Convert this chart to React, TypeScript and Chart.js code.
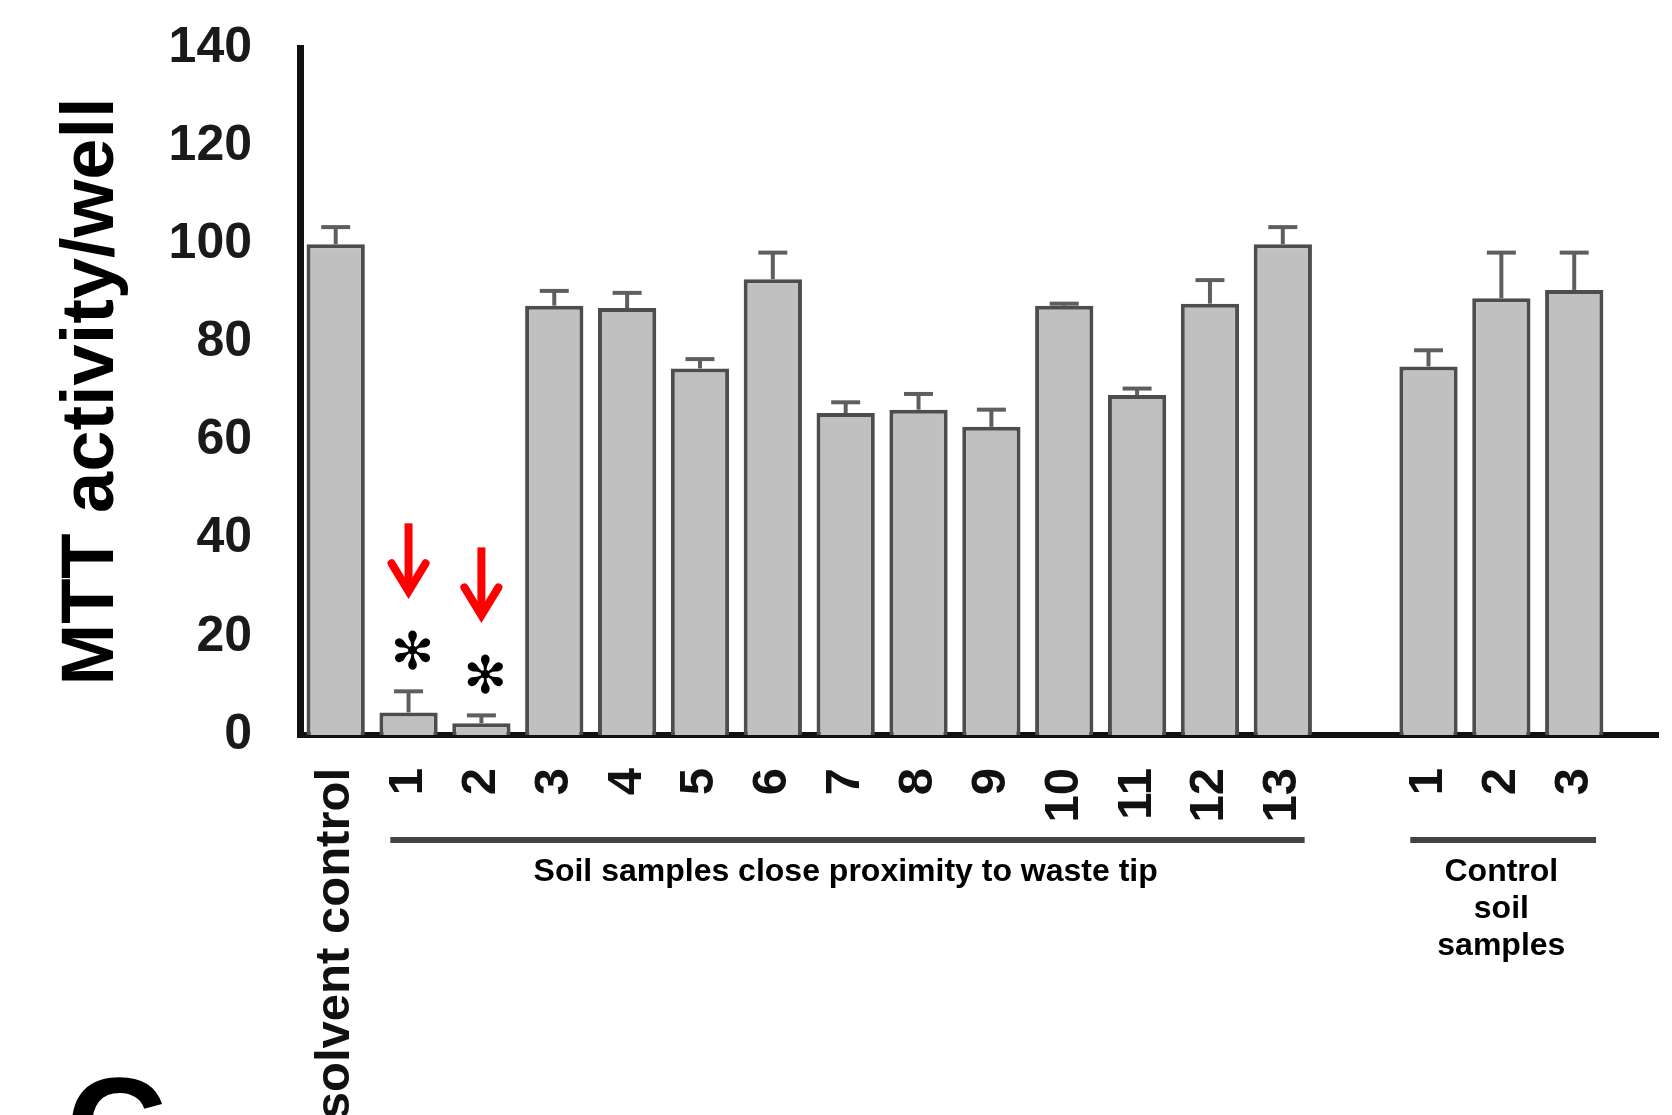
import React, { useEffect, useRef } from 'react';
import { Chart, registerables } from 'chart.js';

Chart.register(...registerables);

// ---- data ----
const categories = ['solvent control', '1', '2', '3', '4', '5', '6', '7', '8', '9', '10', '11', '12', '13', '1', '2', '3'];
const positions = [0, 1, 2, 3, 4, 5, 6, 7, 8, 9, 10, 11, 12, 13, 15, 16, 17];
const values = [100, 4.6, 2.4, 87.5, 87.0, 74.7, 92.9, 65.6, 66.3, 62.8, 87.5, 69.3, 87.9, 100, 75.1, 89.0, 90.7];
const errors = [3.5, 4.3, 1.6, 3.0, 3.1, 1.9, 5.4, 2.2, 3.2, 3.5, 0.4, 1.3, 4.8, 3.5, 3.3, 9.3, 7.6];
const yTickValues = [0, 20, 40, 60, 80, 100, 120, 140];
const yTitle = 'MTT activity/well';
const groupLines = [['Soil samples close proximity to waste tip'], ['Control', 'soil', 'samples']];
const groupFirst = [1, 14];
const groupLast = [13, 16];
const markedBars = [1, 2];
const markSymbol = '✻';
const panelLetter = 'C';

const FONT = '"Liberation Sans", Arial, sans-serif';

const annotationPlugin = {
  id: 'annotations',
  afterDatasetsDraw(chart: any) {
    const ctx = chart.ctx;
    const xs = chart.scales.x;
    const ys = chart.scales.y;
    ctx.save();
    // error bars (upper only)
    ctx.strokeStyle = '#5e5e5e';
    ctx.lineWidth = 4;
    ctx.lineCap = 'butt';
    positions.forEach((p, i) => {
      const x = xs.getPixelForValue(p);
      const yTop = ys.getPixelForValue(values[i]);
      const yErr = ys.getPixelForValue(values[i] + errors[i]);
      ctx.beginPath();
      ctx.moveTo(x, yTop);
      ctx.lineTo(x, yErr);
      ctx.stroke();
      ctx.beginPath();
      ctx.moveTo(x - 14.5, yErr);
      ctx.lineTo(x + 14.5, yErr);
      ctx.stroke();
    });
    ctx.restore();
  },
  afterDraw(chart: any) {
    const ctx = chart.ctx;
    const xs = chart.scales.x;
    const ys = chart.scales.y;
    const area = chart.chartArea;
    ctx.save();
    // significance marks and arrows
    markedBars.forEach((i) => {
      const x = xs.getPixelForValue(positions[i]);
      const yErr = ys.getPixelForValue(values[i] + errors[i]);
      const starY = yErr - 36;
      ctx.fillStyle = '#000';
      ctx.font = `52px "DejaVu Sans"`;
      ctx.textAlign = 'center';
      ctx.textBaseline = 'middle';
      ctx.fillText(markSymbol, x + 4, starY);
      const tip = starY - 58;
      ctx.strokeStyle = '#ff0000';
      ctx.lineWidth = 8;
      ctx.lineCap = 'butt';
      ctx.beginPath();
      ctx.moveTo(x, tip - 74);
      ctx.lineTo(x, tip - 6);
      ctx.stroke();
      ctx.lineCap = 'round';
      ctx.lineJoin = 'miter';
      ctx.beginPath();
      ctx.moveTo(x - 17, tip - 34);
      ctx.lineTo(x, tip - 6);
      ctx.lineTo(x + 17, tip - 34);
      ctx.stroke();
    });
    // group brackets and labels
    const lineY = area.bottom + 105;
    groupLines.forEach((lines, g) => {
      const x1 = xs.getPixelForValue(positions[groupFirst[g]] - 0.25);
      const x2 = xs.getPixelForValue(positions[groupLast[g]] + 0.3);
      ctx.fillStyle = '#444';
      ctx.fillRect(x1, lineY - 3, x2 - x1, 6);
      const cx = (xs.getPixelForValue(positions[groupFirst[g]]) + xs.getPixelForValue(positions[groupLast[g]])) / 2;
      ctx.fillStyle = '#000';
      ctx.font = `bold 32px ${FONT}`;
      ctx.textAlign = 'center';
      ctx.textBaseline = 'alphabetic';
      lines.forEach((t, k) => {
        ctx.fillText(t, cx, lineY + 41 + k * 37);
      });
    });
    // panel letter (cut off at bottom edge)
    ctx.fillStyle = '#000';
    ctx.font = `bold 140px ${FONT}`;
    ctx.textAlign = 'left';
    ctx.textBaseline = 'alphabetic';
    ctx.fillText(panelLetter, 66, chart.height + 60);
    ctx.restore();
  },
};

export default function App() {
  const ref = useRef<HTMLCanvasElement | null>(null);
  useEffect(() => {
    if (!ref.current) return;
    const chart = new Chart(ref.current, {
      type: 'bar',
      data: {
        datasets: [
          {
            data: positions.map((p, i) => ({ x: p, y: values[i] })),
            backgroundColor: '#c0c0c0',
            borderColor: '#4d4d4d',
            borderWidth: 4,
            barPercentage: 0.8,
            categoryPercentage: 1,
          },
        ],
      },
      options: {
        responsive: false,
        animation: false,
        devicePixelRatio: 1,
        layout: { padding: { top: 48, right: 14, left: 0, bottom: 0 } },
        plugins: { legend: { display: false }, tooltip: { enabled: false } },
        scales: {
          x: {
            type: 'linear',
            offset: false,
            min: -0.49,
            max: 18.15,
            grid: { display: false, drawTicks: false, offset: false },
            border: { display: true, color: '#111', width: 6 },
            afterBuildTicks: (scale: any) => {
              scale.ticks = positions.map((v) => ({ value: v }));
            },
            afterFit: (scale: any) => {
              scale.height = 380;
              scale.paddingLeft = 0;
              scale.paddingRight = 0;
              scale.paddingTop = 0;
              scale.paddingBottom = 0;
            },
            ticks: {
              autoSkip: false,
              minRotation: 90,
              maxRotation: 90,
              padding: 33,
              color: '#111',
              font: { family: FONT, size: 49, weight: 'bold' },
              callback: (_v: any, index: number) => categories[index],
            },
          },
          y: {
            type: 'linear',
            min: 0,
            max: 140,
            grid: { display: false, drawTicks: false },
            border: { display: true, color: '#111', width: 7 },
            afterBuildTicks: (scale: any) => {
              scale.ticks = yTickValues.map((v) => ({ value: v }));
            },
            afterFit: (scale: any) => {
              scale.width = 300;
              scale.paddingLeft = 0;
              scale.paddingRight = 0;
              scale.paddingTop = 0;
              scale.paddingBottom = 0;
            },
            ticks: {
              padding: 48,
              color: '#1a1a1a',
              font: { family: FONT, size: 50, weight: 'bold' },
            },
            title: {
              display: true,
              text: yTitle,
              color: '#000',
              font: { family: FONT, size: 74, weight: 'bold', lineHeight: 1 },
              padding: { top: 56, bottom: 0 },
            },
          },
        },
      },
      plugins: [annotationPlugin],
    } as any);
    return () => chart.destroy();
  }, []);
  return (
    <canvas
      ref={ref}
      width={1672}
      height={1115}
      style={{ position: 'fixed', left: 0, top: 0, width: 1672, height: 1115, background: '#fff' }}
    />
  );
}
